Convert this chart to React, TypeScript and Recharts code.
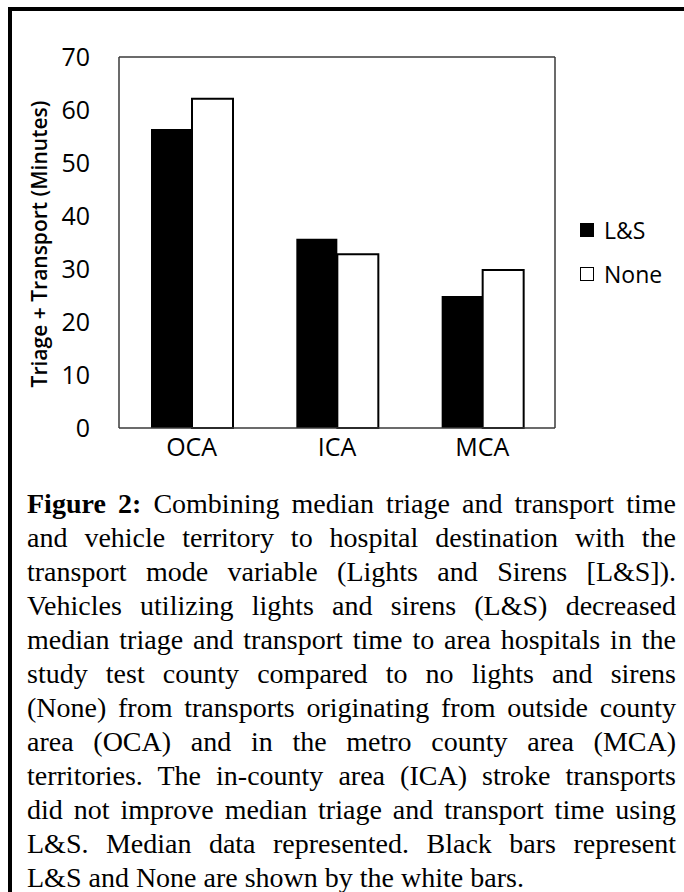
import React from 'react'
import { BarChart, Bar, XAxis, YAxis } from 'recharts'

// values (minutes)
const regions = ['OCA', 'ICA', 'MCA']
const lightsSirens = [56.4, 35.7, 24.9]
const noneValues = [62.1, 32.8, 29.8]
const yTicks = [0, 10, 20, 30, 40, 50, 60, 70]

const seriesNames = { ls: 'L&S', none: 'None' }

const captionLines = [
  'Combining median triage and transport time',
  'and vehicle territory to hospital destination with the',
  'transport mode variable (Lights and Sirens [L&S]).',
  'Vehicles utilizing lights and sirens (L&S) decreased',
  'median triage and transport time to area hospitals in the',
  'study test county compared to no lights and sirens',
  '(None) from transports originating from outside county',
  'area (OCA) and in the metro county area (MCA)',
  'territories. The in-county area (ICA) stroke transports',
  'did not improve median triage and transport time using',
  'L&S. Median data represented. Black bars represent',
  'L&S and None are shown by the white bars.',
]

const chartData = regions.map((r, i) => ({
  name: r,
  ls: lightsSirens[i],
  none: noneValues[i],
}))

const axisFont = { fontFamily: 'Open Sans, sans-serif', fontSize: 25, fill: '#000' }
const frameColor = '#3a3a3a'
const frameLine = { stroke: frameColor, strokeWidth: 1.5 }

function LegendBox() {
  const items = [
    { label: seriesNames.ls, fill: '#000' },
    { label: seriesNames.none, fill: '#fff' },
  ]
  return (
    <div style={{ fontFamily: 'Open Sans, sans-serif', fontSize: 23, color: '#000' }}>
      {items.map((it) => (
        <div key={it.label} style={{ display: 'flex', alignItems: 'center', height: 44 }}>
          <span
            style={{
              display: 'inline-block',
              width: 12,
              height: 12,
              background: it.fill,
              border: '1.5px solid #000',
              marginRight: 10,
            }}
          />
          <span>{it.label}</span>
        </div>
      ))}
    </div>
  )
}

function YLabel() {
  return (
    <text
      x={47}
      y={244}
      transform="rotate(-90 47 244)"
      textAnchor="middle"
      style={{ fontFamily: 'Open Sans, sans-serif', fontSize: 21, fontWeight: 600, fill: '#000' }}
    >
      Triage + Transport (Minutes)
    </text>
  )
}

export default function App() {
  return (
    <div
      style={{
        position: 'absolute',
        left: 0,
        top: 0,
        width: 684,
        height: 892,
        background: '#fff',
        overflow: 'hidden',
      }}
    >
      {/* figure frame (only left and top edges are visible in the crop) */}
      <div
        style={{
          position: 'absolute',
          left: 8,
          top: 7,
          width: 690,
          height: 900,
          borderLeft: '4px solid #000',
          borderTop: '4px solid #000',
        }}
      />

      <div style={{ position: 'absolute', left: 0, top: 0 }}>
        <BarChart
          width={684}
          height={480}
          data={chartData}
          margin={{ top: 56, right: 128, bottom: 12, left: 118 }}
          barGap={0}
        >
          <XAxis
            dataKey="name"
            height={40}
            tickLine={false}
            tickSize={0}
            tickMargin={10}
            tick={axisFont}
            axisLine={frameLine}
          />
          <XAxis
            xAxisId="top"
            dataKey="name"
            orientation="top"
            height={1}
            tick={false}
            tickLine={false}
            axisLine={frameLine}
          />
          <YAxis
            width={1}
            domain={[0, 70]}
            ticks={yTicks}
            interval={0}
            tickLine={false}
            tickSize={0}
            tickMargin={29}
            tick={axisFont}
            axisLine={frameLine}
          />
          <YAxis
            yAxisId="right"
            orientation="right"
            width={1}
            domain={[0, 70]}
            tick={false}
            tickLine={false}
            axisLine={frameLine}
          />
          <Bar dataKey="ls" name={seriesNames.ls} fill="#000" barSize={41} isAnimationActive={false} />
          <Bar
            dataKey="none"
            name={seriesNames.none}
            fill="#fff"
            stroke="#000"
            strokeWidth={2}
            barSize={41}
            isAnimationActive={false}
          />
          <YLabel />
        </BarChart>
      </div>

      <div style={{ position: 'absolute', left: 580, top: 208 }}>
        <LegendBox />
      </div>

      <div
        style={{
          position: 'absolute',
          left: 27,
          top: 487,
          width: 649,
          fontFamily: '"Liberation Serif", "Times New Roman", serif',
          fontSize: 28,
          lineHeight: '34px',
          color: '#000',
        }}
      >
        {captionLines.map((line, i) => (
          <div
            key={i}
            style={{
              whiteSpace: 'nowrap',
              textAlign: 'justify',
              textAlignLast: i === captionLines.length - 1 ? 'left' : 'justify',
            }}
          >
            {i === 0 && <b>Figure 2: </b>}
            {line}
          </div>
        ))}
      </div>
    </div>
  )
}
